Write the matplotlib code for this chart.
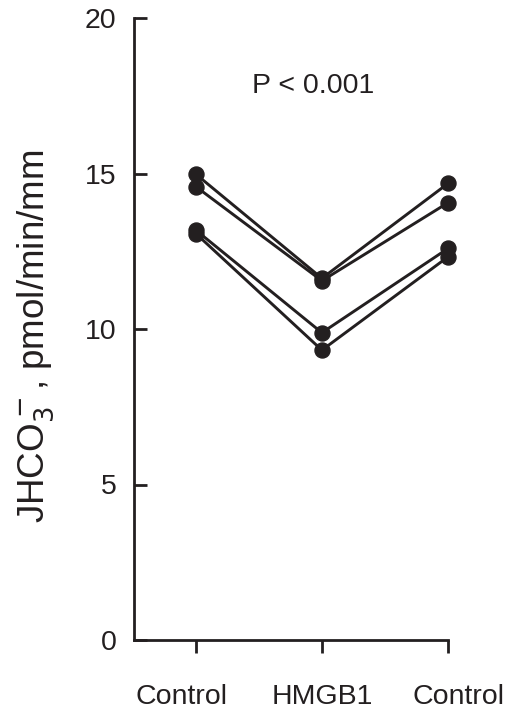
import matplotlib
matplotlib.use("Agg")
import matplotlib.pyplot as plt
from matplotlib.transforms import ScaledTranslation

plt.rcParams['font.family'] = ['Liberation Sans', 'DejaVu Sans']

conditions = ["Control", "HMGB1", "Control"]
# one list per experiment: control, HMGB1, control recovery
exp1 = [14.98, 11.63, 14.68]
exp2 = [14.58, 11.55, 14.06]
exp3 = [13.18, 9.88, 12.59]
exp4 = [13.07, 9.32, 12.32]
yticks = [0, 5, 10, 15, 20]
p_text = "P < 0.001"

ink = "#231f20"

fig = plt.figure(figsize=(5.09, 7.14), dpi=100)
ax = fig.add_axes([134 / 509, 74 / 714, (448 - 134) / 509, (640 - 18) / 714])

x = list(range(len(conditions)))
for series in [exp1, exp2, exp3, exp4]:
    ax.plot(x, series, color=ink, lw=2.1, marker="o", ms=10.8,
            mfc=ink, mec=ink, clip_on=False, zorder=3)

ax.set_xlim(-0.49, 2)
ax.set_ylim(0, 20)
ax.set_xticks(x)
ax.set_xticklabels(conditions)
ax.set_yticks(yticks)
ax.set_yticklabels([str(t) for t in yticks])

for side in ["top", "right"]:
    ax.spines[side].set_visible(False)
for side in ["left", "bottom"]:
    ax.spines[side].set_linewidth(2.0)
    ax.spines[side].set_color(ink)

ax.tick_params(axis="both", width=2.0, length=9.5, color=ink,
               labelsize=20.5, labelcolor=ink)
ax.tick_params(axis="x", direction="out", pad=22)
ax.tick_params(axis="y", direction="in", pad=12.5)

# outer category labels sit a little outside their ticks in the original
shifts = [-14, 0, 11]
for lab, dx in zip(ax.get_xticklabels(), shifts):
    lab.set_transform(lab.get_transform() + ScaledTranslation(dx / 100, 0, fig.dpi_scale_trans))

ax.set_ylabel("JHCO$_3^-$, pmol/min/mm", fontsize=26.5, color=ink)
ax.yaxis.set_label_coords(-0.248, 0.489)
ax.text(0.93, 17.59, p_text, fontsize=20.5, ha="center", va="baseline", color=ink)

fig.savefig("out.png", dpi=100)
